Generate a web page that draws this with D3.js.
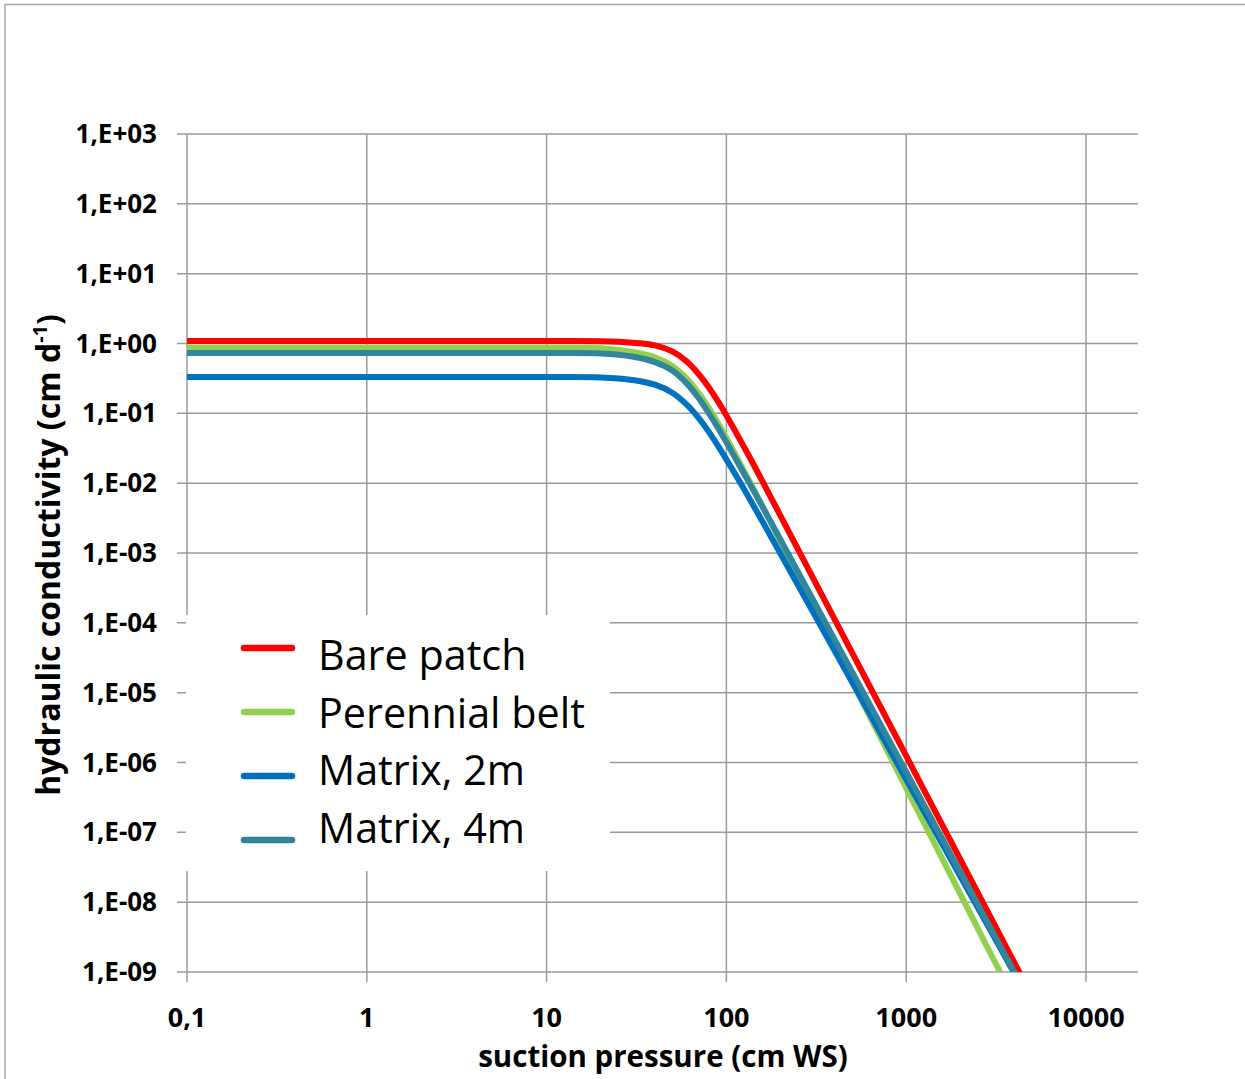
<!DOCTYPE html>
<html>
<head>
<meta charset="utf-8">
<script src="https://cdn.jsdelivr.net/npm/d3@7/dist/d3.min.js"></script>
<style>
  body { margin: 0; background: #fff; }
  svg { display: block; }
</style>
</head>
<body>
<svg id="chart" width="1245" height="1079"></svg>
<script>
// Suction pressure (cm WS) at which conductivity was evaluated
const suction = [0.1, 1, 10, 20, 30, 40, 50, 60, 70, 80, 90, 100, 125, 150, 200, 300, 500, 1000, 2000, 3000, 4000, 5000];

// Hydraulic conductivity (cm/d) per soil unit
const barePatch = [1.086, 1.086, 1.086, 1.079, 1.028, 0.942, 0.771, 0.556, 0.366, 0.233, 0.147, 0.0933, 0.0334, 0.0140, 0.0034, 4.63e-4, 3.75e-5, 1.24e-6, 4.09e-8, 5.57e-9, 1.35e-9, 4.51e-10];
const perennialBelt = [0.871, 0.871, 0.871, 0.853, 0.755, 0.635, 0.475, 0.318, 0.197, 0.119, 0.0721, 0.0446, 0.0152, 0.00619, 0.00146, 1.88e-4, 1.43e-5, 4.31e-7, 1.30e-8, 1.68e-9, 3.93e-10, 1.27e-10];
const matrix2m = [0.331, 0.331, 0.331, 0.327, 0.301, 0.257, 0.197, 0.134, 0.0859, 0.0538, 0.0340, 0.0219, 0.0083, 0.00366, 9.77e-4, 1.50e-4, 1.42e-5, 5.75e-7, 2.34e-8, 3.60e-9, 9.51e-10, 3.39e-10];
const matrix4m = [0.731, 0.731, 0.731, 0.721, 0.652, 0.542, 0.412, 0.271, 0.166, 0.100, 0.0614, 0.0385, 0.0139, 0.0060, 0.00155, 2.26e-4, 1.98e-5, 7.31e-7, 2.70e-8, 3.92e-9, 9.95e-10, 3.44e-10];

const seriesNames = ["Bare patch", "Perennial belt", "Matrix, 2m", "Matrix, 4m"];
const seriesColors = ["#ff0000", "#92d050", "#0070c0", "#31859c"];

// Axis ticks
const xTickValues = [0.1, 1, 10, 100, 1000, 10000];
const xTickLabels = ["0,1", "1", "10", "100", "1000", "10000"];
const yTickValues = [1e-9, 1e-8, 1e-7, 1e-6, 1e-5, 1e-4, 1e-3, 1e-2, 1e-1, 1e0, 1e1, 1e2, 1e3];
const yTickLabels = ["1,E-09", "1,E-08", "1,E-07", "1,E-06", "1,E-05", "1,E-04", "1,E-03", "1,E-02", "1,E-01", "1,E+00", "1,E+01", "1,E+02", "1,E+03"];

const xTitle = "suction pressure (cm WS)";

// ---- layout ----
const plot = { left: 187, right: 1138, top: 134, bottom: 972 };
const gridColor = "#9a9a9a";
const tickFont = "'Open Sans', 'Noto Sans', sans-serif";

const svg = d3.select("#chart");

const x = d3.scaleLog().domain([0.1, 10000]).range([plot.left, 1086]);
const y = d3.scaleLog().domain([1e-9, 1e3]).range([plot.bottom, plot.top]);

// outer chart border (runs off the right and bottom edges)
svg.append("rect")
  .attr("x", 5).attr("y", 4.5)
  .attr("width", 1400).attr("height", 1200)
  .attr("fill", "#fff")
  .attr("stroke", "#a6a6a6")
  .attr("stroke-width", 1.5);

// horizontal gridlines + left tick marks
svg.append("g")
  .selectAll("line")
  .data(yTickValues)
  .join("line")
  .attr("x1", plot.left - 10)
  .attr("x2", plot.right)
  .attr("y1", d => y(d))
  .attr("y2", d => y(d))
  .attr("stroke", gridColor)
  .attr("stroke-width", 1.5);

// vertical gridlines + bottom tick marks
svg.append("g")
  .selectAll("line")
  .data(xTickValues)
  .join("line")
  .attr("x1", d => x(d))
  .attr("x2", d => x(d))
  .attr("y1", plot.top)
  .attr("y2", plot.bottom + 10)
  .attr("stroke", gridColor)
  .attr("stroke-width", 1.5);

// y tick labels
svg.append("g")
  .selectAll("text")
  .data(yTickValues)
  .join("text")
  .attr("x", 157)
  .attr("y", d => y(d) + 9)
  .attr("text-anchor", "end")
  .attr("font-family", tickFont)
  .attr("font-weight", 700)
  .attr("font-size", 26)
  .attr("fill", "#000")
  .text((d, i) => yTickLabels[i]);

// x tick labels
svg.append("g")
  .selectAll("text")
  .data(xTickValues)
  .join("text")
  .attr("x", d => x(d))
  .attr("y", 1027)
  .attr("text-anchor", "middle")
  .attr("font-family", tickFont)
  .attr("font-weight", 700)
  .attr("font-size", 27)
  .attr("fill", "#000")
  .text((d, i) => xTickLabels[i]);

// axis titles
svg.append("text")
  .attr("x", 663)
  .attr("y", 1067)
  .attr("text-anchor", "middle")
  .attr("font-family", tickFont)
  .attr("font-weight", 700)
  .attr("font-size", 29.5)
  .attr("fill", "#000")
  .text(xTitle);

const yt = svg.append("text")
  .attr("transform", "translate(60,555) rotate(-90)")
  .attr("text-anchor", "middle")
  .attr("font-family", tickFont)
  .attr("font-weight", 700)
  .attr("font-size", 32)
  .attr("fill", "#000");
yt.append("tspan").text("hydraulic conductivity (cm d");
yt.append("tspan").attr("font-size", 20).attr("baseline-shift", "65%").text("-1");
yt.append("tspan").text(")");

// legend (white box over the grid)
const legend = svg.append("g");
legend.append("rect")
  .attr("x", 186).attr("y", 615)
  .attr("width", 424).attr("height", 256)
  .attr("fill", "#fff");

legend.selectAll("line")
  .data(seriesNames)
  .join("line")
  .attr("x1", 244).attr("x2", 292)
  .attr("y1", (d, i) => 648 + i * 64)
  .attr("y2", (d, i) => 648 + i * 64)
  .attr("stroke", (d, i) => seriesColors[i])
  .attr("stroke-width", 6.5)
  .attr("stroke-linecap", "round");

legend.selectAll("text")
  .data(seriesNames)
  .join("text")
  .attr("x", 318)
  .attr("y", (d, i) => 670 + i * 57.7)
  .attr("font-family", "'Open Sans', sans-serif")
  .attr("font-size", 41.3)
  .attr("fill", "#000")
  .text(d => d);

// curves
svg.append("defs").append("clipPath").attr("id", "plotClip")
  .append("rect")
  .attr("x", plot.left).attr("y", plot.top)
  .attr("width", plot.right - plot.left)
  .attr("height", plot.bottom - plot.top);

const seriesValues = [barePatch, perennialBelt, matrix2m, matrix4m];
const line = d3.line()
  .x(d => x(d[0]))
  .y(d => y(d[1]))
  .curve(d3.curveCatmullRom.alpha(0.5));

svg.append("g")
  .attr("clip-path", "url(#plotClip)")
  .selectAll("path")
  .data(seriesValues)
  .join("path")
  .attr("d", vals => line(suction.map((h, i) => [h, vals[i]])))
  .attr("fill", "none")
  .attr("stroke", (d, i) => seriesColors[i])
  .attr("stroke-width", 6)
  .attr("stroke-linejoin", "round");
</script>
</body>
</html>
